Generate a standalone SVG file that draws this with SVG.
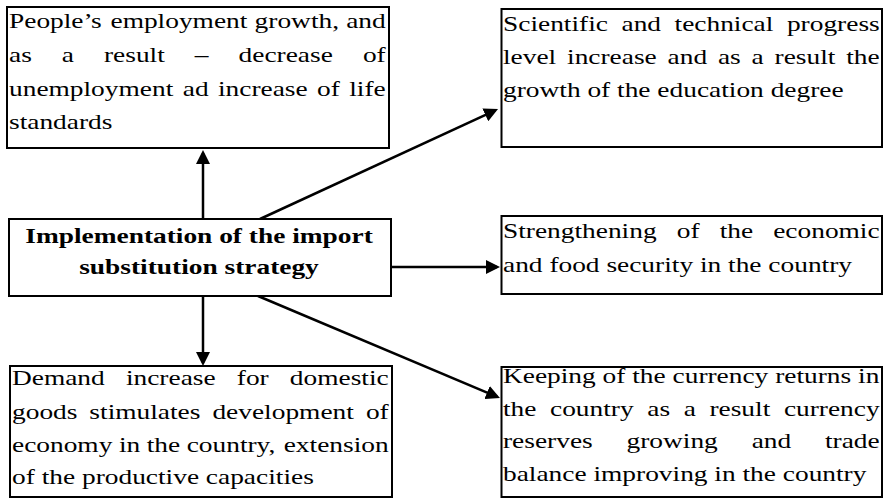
<svg xmlns="http://www.w3.org/2000/svg" width="888" height="499" viewBox="0 0 888 499">
<style>
.box{fill:#fff;stroke:#000;stroke-width:2}
.t{font-family:"Liberation Serif","Times New Roman",serif;font-size:20px;fill:#000}
.b{font-family:"Liberation Serif","Times New Roman",serif;font-size:20px;font-weight:bold;fill:#000;text-anchor:middle}
.c{fill:none;stroke:#000;stroke-width:2.5}
</style>
<defs>
<marker id="ah" markerUnits="userSpaceOnUse" markerWidth="15" markerHeight="14" refX="11" refY="7" orient="auto" viewBox="0 0 15 14">
<path d="M0,0 L14,7 L0,14 z" fill="#000"/>
</marker>
</defs>
<rect width="888" height="499" fill="#fff"/>
<g id="connectors">
<line class="c" x1="203" y1="219" x2="203" y2="153" marker-end="url(#ah)"/>
<line class="c" x1="203" y1="296" x2="203" y2="363" marker-end="url(#ah)"/>
<line class="c" x1="260" y1="219" x2="495.3" y2="110.3" marker-end="url(#ah)"/>
<line class="c" x1="391" y1="267" x2="497" y2="267" marker-end="url(#ah)"/>
<line class="c" x1="258" y1="296" x2="497.2" y2="396.8" marker-end="url(#ah)"/>
</g>
<g id="n-employment">
<rect class="box" x="7" y="7" width="382" height="141"/>
<g transform="translate(9,0) scale(1.37,1)">
<text class="t" y="28"><tspan x="0">People’s</tspan><tspan x="74.08">employment</tspan><tspan x="179.28">growth,</tspan><tspan x="246.14">and</tspan></text>
<text class="t" y="62"><tspan x="0">as</tspan><tspan x="38.56">a</tspan><tspan x="69.34">result</tspan><tspan x="135.68">–</tspan><tspan x="167.58">decrease</tspan><tspan x="258.32">of</tspan></text>
<text class="t" y="96"><tspan x="0">unemployment</tspan><tspan x="126.82">ad</tspan><tspan x="152.52">increase</tspan><tspan x="224.86">of</tspan><tspan x="248.34">life</tspan></text>
<text class="t" x="0" y="129">standards</text>
</g>
</g>
<g id="n-science">
<rect class="box" x="501.5" y="9" width="380.5" height="138"/>
<g transform="translate(503,0) scale(1.37,1)">
<text class="t" y="31"><tspan x="0">Scientific</tspan><tspan x="86.5">and</tspan><tspan x="125.22">technical</tspan><tspan x="207.26">progress</tspan></text>
<text class="t" y="64"><tspan x="0">level</tspan><tspan x="46.76">increase</tspan><tspan x="120.16">and</tspan><tspan x="156.92">as</tspan><tspan x="181.46">a</tspan><tspan x="198.22">result</tspan><tspan x="250.54">the</tspan></text>
<text class="t" x="0" y="97">growth of the education degree</text>
</g>
</g>
<g id="n-center">
<rect class="box" x="9" y="219" width="382" height="77"/>
<g transform="translate(199,0) scale(1.37,1)">
<text class="b" x="0" y="243">Implementation of the import</text>
<text class="b" x="0" y="274">substitution strategy</text>
</g>
</g>
<g id="n-security">
<rect class="box" x="501.5" y="216" width="380.5" height="78"/>
<g transform="translate(503,0) scale(1.37,1)">
<text class="t" y="238"><tspan x="0">Strengthening</tspan><tspan x="126.86">of</tspan><tspan x="158.16">the</tspan><tspan x="197.24">economic</tspan></text>
<text class="t" x="0" y="272">and food security in the country</text>
</g>
</g>
<g id="n-demand">
<rect class="box" x="10" y="366" width="382" height="131"/>
<g transform="translate(12,0) scale(1.37,1)">
<text class="t" y="385"><tspan x="0">Demand</tspan><tspan x="83.16">increase</tspan><tspan x="164.08">for</tspan><tspan x="202.8">domestic</tspan></text>
<text class="t" y="419"><tspan x="0">goods</tspan><tspan x="56.48">stimulates</tspan><tspan x="146.3">development</tspan><tspan x="258.32">of</tspan></text>
<text class="t" y="452"><tspan x="0">economy</tspan><tspan x="78.04">in</tspan><tspan x="98.34">the</tspan><tspan x="127.5">country,</tspan><tspan x="198.34">extension</tspan></text>
<text class="t" x="0" y="484">of the productive capacities</text>
</g>
</g>
<g id="n-currency">
<rect class="box" x="501.5" y="367" width="380.5" height="130"/>
<g transform="translate(503,0) scale(1.37,1)">
<text class="t" x="0" y="383">Keeping of the currency returns in</text>
<text class="t" y="416"><tspan x="0">the</tspan><tspan x="34.34">country</tspan><tspan x="105.34">as</tspan><tspan x="131.9">a</tspan><tspan x="150.68">result</tspan><tspan x="205.02">currency</tspan></text>
<text class="t" y="448"><tspan x="0">reserves</tspan><tspan x="90.18">growing</tspan><tspan x="181.5">and</tspan><tspan x="235.04">trade</tspan></text>
<text class="t" x="0" y="481">balance improving in the country</text>
</g>
</g>
</svg>
